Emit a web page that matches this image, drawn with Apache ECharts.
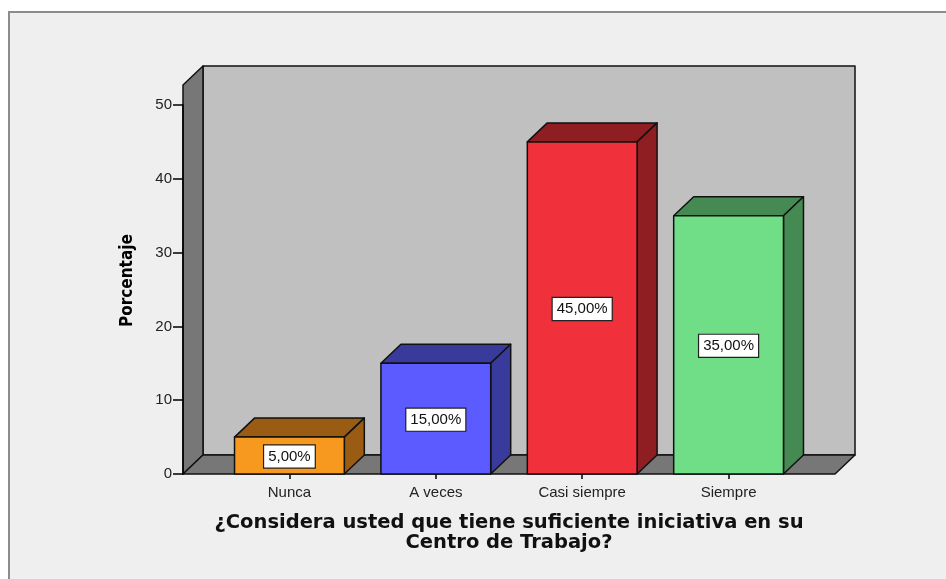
<!DOCTYPE html>
<html>
<head>
<meta charset="utf-8">
<script src="https://cdn.jsdelivr.net/npm/echarts@6/dist/echarts.min.js"></script>
<style>
html,body{margin:0;padding:0;background:#ffffff;}
#chart{width:946px;height:579px;}
</style>
</head>
<body>
<div id="chart"></div>
<script>
// ---- data ----
const categories = ['Nunca', 'A veces', 'Casi siempre', 'Siempre'];
const percentages = [5, 15, 45, 35];
const yTickValues = [0, 10, 20, 30, 40, 50];
const xTitle = '¿Considera usted que tiene suficiente iniciativa en su\nCentro de Trabajo?';
const yTitle = 'Porcentaje';

// ---- styles ----
const frontColors = ['#f7991e', '#5b5bff', '#f0303a', '#70de86'];
const sideColors  = ['#9a5b12', '#383b9c', '#8f1e23', '#458a53'];
const DX = 20, DY = -19;          // 3D depth offset in px
const WALL_TOP = 52.7;            // top of the chart box in axis units
const BAR_W = 0.75;               // bar width in category units

function fmt(v) { return v.toFixed(2).replace('.', ',') + '%'; }

const chart = echarts.init(document.getElementById('chart'), null, {renderer: 'canvas'});

const option = {
  backgroundColor: '#ffffff',
  animation: false,
  graphic: [
    {type: 'rect', z: -10, shape: {x: 9, y: 12, width: 960, height: 600},
     style: {fill: '#efefef', stroke: '#8c8c8c', lineWidth: 2}},
    {type: 'text', z: 10,
     rotation: Math.PI / 2, originX: 0, originY: 0,
     style: {text: yTitle, font: 'bold 17px "Liberation Sans Narrow", "DejaVu Sans Condensed", sans-serif', fill: '#000'},
     position: [119, 327]}
  ],
  grid: {left: 183, right: 111, top: 105, bottom: 105},
  xAxis: {
    type: 'value', min: -0.727, max: 3.727,
    axisLine: {show: false, onZero: false},
    splitLine: {show: false},
    axisTick: {show: true, customValues: [0, 1, 2, 3], length: 5, lineStyle: {color: '#000', width: 1.5}},
    axisLabel: {customValues: [0, 1, 2, 3], formatter: v => categories[Math.round(v)] || '',
      margin: 11, fontFamily: '"Liberation Sans", Arial, sans-serif', fontSize: 15, color: '#222'},
    name: xTitle, nameLocation: 'middle', nameGap: 39,
    nameTextStyle: {fontFamily: '"DejaVu Sans", Verdana, sans-serif', fontWeight: 'bold', fontSize: 19.5, color: '#111', lineHeight: 20}
  },
  yAxis: {
    type: 'value', min: 0, max: 50, interval: 10, z: 10,
    axisLine: {show: true, onZero: false, lineStyle: {color: '#000', width: 1.5}},
    splitLine: {show: false},
    axisTick: {show: true, inside: false, length: 10, customValues: yTickValues, lineStyle: {color: '#000', width: 1.5}},
    axisLabel: {margin: 11, customValues: yTickValues, fontFamily: '"Liberation Sans", Arial, sans-serif', fontSize: 15, color: '#222'}
  },
  series: [
    {
      type: 'custom', name: 'box', z: 1, silent: true,
      data: [[0, 0]],
      renderItem: function (params, api) {
        const cs = params.coordSys;
        const left = cs.x, right = cs.x + cs.width, bottom = cs.y + cs.height;
        const top = api.coord([0, WALL_TOP])[1];
        const stroke = {stroke: '#111', lineWidth: 1.5, lineJoin: 'round'};
        return {type: 'group', children: [
          {type: 'polygon', shape: {points: [[left + DX, top + DY], [right + DX, top + DY], [right + DX, bottom + DY], [left + DX, bottom + DY]]},
           style: Object.assign({fill: '#c0c0c0'}, stroke)},
          {type: 'polygon', shape: {points: [[left, top], [left + DX, top + DY], [left + DX, bottom + DY], [left, bottom]]},
           style: Object.assign({fill: '#777777'}, stroke)},
          {type: 'polygon', shape: {points: [[left, bottom], [left + DX, bottom + DY], [right + DX, bottom + DY], [right, bottom]]},
           style: Object.assign({fill: '#777777'}, stroke)}
        ]};
      }
    },
    {
      type: 'custom', name: 'Porcentaje', z: 2,
      data: percentages.map((v, i) => [i, v]),
      encode: {x: 0, y: 1},
      renderItem: function (params, api) {
        const i = api.value(0), v = api.value(1);
        const base = api.coord([i, 0]);
        const topP = api.coord([i, v]);
        const hw = api.size([BAR_W, 0])[0] / 2;
        const x0 = base[0] - hw, x1 = base[0] + hw, y0 = topP[1], y1 = base[1];
        const stroke = {stroke: '#111', lineWidth: 1.5, lineJoin: 'round'};
        return {type: 'group', children: [
          {type: 'polygon', shape: {points: [[x0, y0], [x0 + DX, y0 + DY], [x1 + DX, y0 + DY], [x1, y0]]},
           style: Object.assign({fill: sideColors[i]}, stroke)},
          {type: 'polygon', shape: {points: [[x1, y0], [x1 + DX, y0 + DY], [x1 + DX, y1 + DY], [x1, y1]]},
           style: Object.assign({fill: sideColors[i]}, stroke)},
          {type: 'rect', shape: {x: x0, y: y0, width: x1 - x0, height: y1 - y0},
           style: Object.assign({fill: frontColors[i]}, stroke)},
          {type: 'text', x: base[0], y: (y0 + y1) / 2 + 1, z2: 10,
           style: {text: fmt(v), align: 'center', verticalAlign: 'middle',
             font: '15px "Liberation Sans", Arial, sans-serif', fill: '#111',
             backgroundColor: '#ffffff', borderColor: '#222', borderWidth: 1.2, padding: [4, 4, 3, 4]}}
        ]};
      }
    }
  ]
};
chart.setOption(option);
</script>
</body>
</html>
